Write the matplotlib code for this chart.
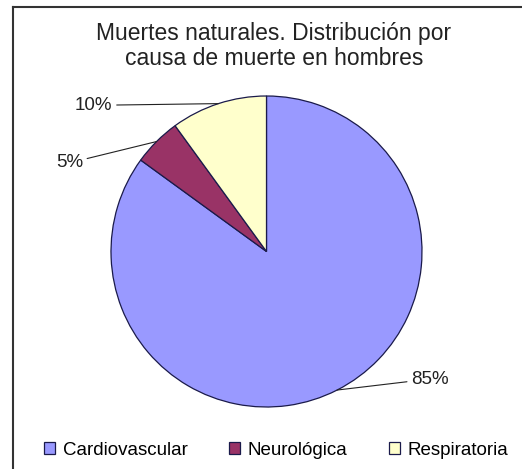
import numpy as np
import matplotlib
matplotlib.use('Agg')
import matplotlib.pyplot as plt
from matplotlib.lines import Line2D

plt.rcParams['font.family'] = ['Liberation Sans', 'DejaVu Sans']

# ---- data ----
categories = ['Cardiovascular', 'Neurológica', 'Respiratoria']
values = [85, 5, 10]
colors = ['#9999FF', '#993366', '#FFFFCC']
title = 'Muertes naturales. Distribución por\ncausa de muerte en hombres'

fig = plt.figure(figsize=(5.22, 4.69), dpi=100)
fig.patch.set_facecolor('white')

# chart frame (left and top edges visible)
fig.add_artist(Line2D([13/522, 13/522], [0, 1 - 7/469], transform=fig.transFigure,
                      color='#333333', lw=1.5))
fig.add_artist(Line2D([13/522, 1], [1 - 7/469, 1 - 7/469], transform=fig.transFigure,
                      color='#333333', lw=1.5))

ax = fig.add_axes([111/522, 62/469, 311/522, 311/469])
wedges, _ = ax.pie(values, colors=colors, startangle=90, counterclock=False,
                   wedgeprops=dict(edgecolor='#1a1a4a', linewidth=0.9))
ax.set_xlim(-1, 1)
ax.set_ylim(-1, 1)
ax.set_aspect('equal')
ax.axis('off')

# label positions (text anchor, data coords)
label_pos = [(0.93, -0.82), (-1.18, 0.57), (-0.99, 0.94)]
aligns = ['left', 'right', 'right']
for w, v, pos, ha in zip(wedges, values, label_pos, aligns):
    ang = np.deg2rad((w.theta1 + w.theta2) / 2)
    edge = (np.cos(ang), np.sin(ang))
    ax.annotate(f'{v}%', xy=edge, xytext=pos, ha=ha, va='center',
                fontsize=13.5, color='#222222', annotation_clip=False,
                arrowprops=dict(arrowstyle='-', color='#222222', lw=0.8,
                                shrinkA=1, shrinkB=0))

fig.text(274/522, 1 - 46/469, title, ha='center', va='center',
         fontsize=16.5, color='#222222', linespacing=1.15)

fig.legend(wedges, categories, loc='center', bbox_to_anchor=(276/522, 1 - 450/469),
           ncol=3, frameon=False, fontsize=13.5, handlelength=0.6, handleheight=0.6,
           handletextpad=0.4, columnspacing=2.2, borderaxespad=0)

fig.savefig('out.png', dpi=100)
